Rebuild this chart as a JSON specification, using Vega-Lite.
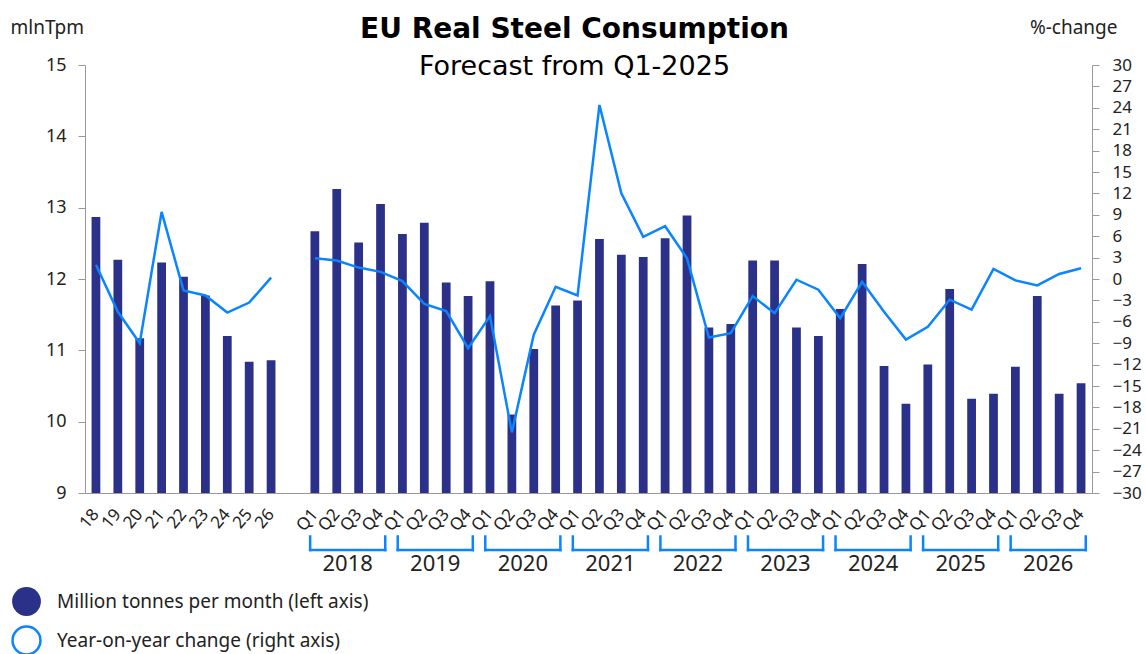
{
  "$schema": "https://vega.github.io/schema/vega-lite/v6.json",
  "width": 1007,
  "height": 428,
  "autosize": {"type": "none"},
  "padding": {"left": 85, "top": 65, "right": 54, "bottom": 161},
  "background": "white",
  "config": {"view": {"stroke": null}, "font": "Noto Sans"},
  "title": {
    "text": "EU Real Steel Consumption",
    "subtitle": "Forecast from Q1-2025",
    "anchor": "middle",
    "frame": "group",
    "font": "DejaVu Sans",
    "fontSize": 28,
    "fontWeight": "bold",
    "color": "#000000",
    "subtitleFont": "DejaVu Sans",
    "subtitleFontSize": 27,
    "subtitleColor": "#000000",
    "subtitlePadding": 10,
    "offset": -62,
    "dx": -14
  },
  "datasets": {
    "main": [
      {"cat": "18", "grp": "annual", "mt": 12.87, "yoy": 2.0},
      {"cat": "19", "grp": "annual", "mt": 12.27, "yoy": -4.6},
      {"cat": "20", "grp": "annual", "mt": 11.17, "yoy": -9.0},
      {"cat": "21", "grp": "annual", "mt": 12.23, "yoy": 9.4},
      {"cat": "22", "grp": "annual", "mt": 12.03, "yoy": -1.6},
      {"cat": "23", "grp": "annual", "mt": 11.77, "yoy": -2.3},
      {"cat": "24", "grp": "annual", "mt": 11.20, "yoy": -4.7},
      {"cat": "25", "grp": "annual", "mt": 10.84, "yoy": -3.3},
      {"cat": "26", "grp": "annual", "mt": 10.86, "yoy": 0.2},
      {"cat": "2018Q1", "grp": "quarterly", "mt": 12.67, "yoy": 2.9},
      {"cat": "2018Q2", "grp": "quarterly", "mt": 13.26, "yoy": 2.6},
      {"cat": "2018Q3", "grp": "quarterly", "mt": 12.51, "yoy": 1.6},
      {"cat": "2018Q4", "grp": "quarterly", "mt": 13.05, "yoy": 1.0},
      {"cat": "2019Q1", "grp": "quarterly", "mt": 12.63, "yoy": -0.3},
      {"cat": "2019Q2", "grp": "quarterly", "mt": 12.79, "yoy": -3.5},
      {"cat": "2019Q3", "grp": "quarterly", "mt": 11.95, "yoy": -4.5},
      {"cat": "2019Q4", "grp": "quarterly", "mt": 11.76, "yoy": -9.7},
      {"cat": "2020Q1", "grp": "quarterly", "mt": 11.97, "yoy": -5.2},
      {"cat": "2020Q2", "grp": "quarterly", "mt": 10.10, "yoy": -21.5},
      {"cat": "2020Q3", "grp": "quarterly", "mt": 11.02, "yoy": -7.8},
      {"cat": "2020Q4", "grp": "quarterly", "mt": 11.63, "yoy": -1.1},
      {"cat": "2021Q1", "grp": "quarterly", "mt": 11.70, "yoy": -2.3},
      {"cat": "2021Q2", "grp": "quarterly", "mt": 12.56, "yoy": 24.4},
      {"cat": "2021Q3", "grp": "quarterly", "mt": 12.34, "yoy": 12.0},
      {"cat": "2021Q4", "grp": "quarterly", "mt": 12.31, "yoy": 5.9},
      {"cat": "2022Q1", "grp": "quarterly", "mt": 12.57, "yoy": 7.4},
      {"cat": "2022Q2", "grp": "quarterly", "mt": 12.89, "yoy": 2.9},
      {"cat": "2022Q3", "grp": "quarterly", "mt": 11.32, "yoy": -8.2},
      {"cat": "2022Q4", "grp": "quarterly", "mt": 11.37, "yoy": -7.6},
      {"cat": "2023Q1", "grp": "quarterly", "mt": 12.26, "yoy": -2.4},
      {"cat": "2023Q2", "grp": "quarterly", "mt": 12.26, "yoy": -4.8},
      {"cat": "2023Q3", "grp": "quarterly", "mt": 11.32, "yoy": -0.1},
      {"cat": "2023Q4", "grp": "quarterly", "mt": 11.20, "yoy": -1.5},
      {"cat": "2024Q1", "grp": "quarterly", "mt": 11.58, "yoy": -5.5},
      {"cat": "2024Q2", "grp": "quarterly", "mt": 12.21, "yoy": -0.4},
      {"cat": "2024Q3", "grp": "quarterly", "mt": 10.78, "yoy": -4.6},
      {"cat": "2024Q4", "grp": "quarterly", "mt": 10.25, "yoy": -8.5},
      {"cat": "2025Q1", "grp": "quarterly", "mt": 10.80, "yoy": -6.7},
      {"cat": "2025Q2", "grp": "quarterly", "mt": 11.86, "yoy": -2.9},
      {"cat": "2025Q3", "grp": "quarterly", "mt": 10.32, "yoy": -4.3},
      {"cat": "2025Q4", "grp": "quarterly", "mt": 10.39, "yoy": 1.4},
      {"cat": "2026Q1", "grp": "quarterly", "mt": 10.77, "yoy": -0.2},
      {"cat": "2026Q2", "grp": "quarterly", "mt": 11.76, "yoy": -0.9},
      {"cat": "2026Q3", "grp": "quarterly", "mt": 10.39, "yoy": 0.7},
      {"cat": "2026Q4", "grp": "quarterly", "mt": 10.54, "yoy": 1.5}
    ],
    "years": [
      {"year": "2018", "first": "2018Q1", "second": "2018Q2", "last": "2018Q4"},
      {"year": "2019", "first": "2019Q1", "second": "2019Q2", "last": "2019Q4"},
      {"year": "2020", "first": "2020Q1", "second": "2020Q2", "last": "2020Q4"},
      {"year": "2021", "first": "2021Q1", "second": "2021Q2", "last": "2021Q4"},
      {"year": "2022", "first": "2022Q1", "second": "2022Q2", "last": "2022Q4"},
      {"year": "2023", "first": "2023Q1", "second": "2023Q2", "last": "2023Q4"},
      {"year": "2024", "first": "2024Q1", "second": "2024Q2", "last": "2024Q4"},
      {"year": "2025", "first": "2025Q1", "second": "2025Q2", "last": "2025Q4"},
      {"year": "2026", "first": "2026Q1", "second": "2026Q2", "last": "2026Q4"}
    ]
  },
  "layer": [
    {
      "layer": [
        {
          "data": {"name": "main"},
          "mark": {"type": "bar", "width": {"band": 0.4}},
          "encoding": {
            "x": {
              "field": "cat",
              "type": "nominal",
              "sort": null,
              "scale": {
                "domain": ["18", "19", "20", "21", "22", "23", "24", "25", "26", "gap",
                  "2018Q1", "2018Q2", "2018Q3", "2018Q4",
                  "2019Q1", "2019Q2", "2019Q3", "2019Q4",
                  "2020Q1", "2020Q2", "2020Q3", "2020Q4",
                  "2021Q1", "2021Q2", "2021Q3", "2021Q4",
                  "2022Q1", "2022Q2", "2022Q3", "2022Q4",
                  "2023Q1", "2023Q2", "2023Q3", "2023Q4",
                  "2024Q1", "2024Q2", "2024Q3", "2024Q4",
                  "2025Q1", "2025Q2", "2025Q3", "2025Q4",
                  "2026Q1", "2026Q2", "2026Q3", "2026Q4"],
                "paddingInner": 0,
                "paddingOuter": 0
              },
              "axis": {
                "title": null,
                "labelAngle": -50,
                "labelAlign": "right",
                "labelBaseline": "middle",
                "ticks": false,
                "tickSize": 0,
                "labelPadding": 18,
                "labelFontSize": 17,
                "labelColor": "#222222",
                "labelFont": "Noto Sans",
                "domainColor": "#999999",
                "labelOverlap": false,
                "labelExpr": "datum.label == 'gap' ? '' : (length(datum.label) > 2 ? slice(datum.label, 4) : datum.label)"
              }
            },
            "y": {
              "field": "mt",
              "type": "quantitative",
              "scale": {"domain": [9, 15], "zero": false, "nice": false},
              "axis": {
                "title": "mlnTpm",
                "titleAngle": 0,
                "titleX": -75,
                "titleY": -38,
                "titleAlign": "left",
                "titleBaseline": "middle",
                "titleFontSize": 19,
                "titleFontWeight": "normal",
                "titleColor": "#222222",
                "titleFont": "Noto Sans",
                "values": [9, 10, 11, 12, 13, 14, 15],
                "format": "d",
                "grid": false,
                "tickSize": 7,
                "tickColor": "#999999",
                "domainColor": "#999999",
                "labelFontSize": 18,
                "labelPadding": 12,
                "labelColor": "#222222",
                "labelFont": "Noto Sans",
                "labelOverlap": false,
                "labelFlush": false
              }
            },
            "y2": {"datum": 9},
            "fill": {
              "datum": "Million tonnes per month (left axis)",
              "type": "nominal",
              "scale": {"domain": ["Million tonnes per month (left axis)"], "range": ["#2B3088"]},
              "legend": {
                "title": null,
                "orient": "none",
                "legendX": -74,
                "legendY": 521,
                "symbolType": "circle",
                "symbolSize": 830,
                "labelFontSize": 19,
                "labelFont": "Noto Sans",
                "labelColor": "#222222",
                "labelLimit": 0,
                "labelOffset": 15,
                "padding": 0
              }
            }
          }
        },
        {
          "data": {"name": "years"},
          "mark": {"type": "rule", "color": "#0A84FF", "strokeWidth": 2.5, "strokeCap": "square"},
          "encoding": {
            "x": {"field": "first", "type": "nominal", "bandPosition": 0.285},
            "x2": {"field": "last", "bandPosition": 0.715},
            "y": {"datum": 8.2, "type": "quantitative"}
          }
        },
        {
          "data": {"name": "years"},
          "mark": {"type": "rule", "color": "#0A84FF", "strokeWidth": 2.5, "strokeCap": "square"},
          "encoding": {
            "x": {"field": "first", "type": "nominal", "bandPosition": 0.285},
            "y": {"datum": 8.39, "type": "quantitative"},
            "y2": {"datum": 8.2}
          }
        },
        {
          "data": {"name": "years"},
          "mark": {"type": "rule", "color": "#0A84FF", "strokeWidth": 2.5, "strokeCap": "square"},
          "encoding": {
            "x": {"field": "last", "type": "nominal", "bandPosition": 0.715},
            "y": {"datum": 8.39, "type": "quantitative"},
            "y2": {"datum": 8.2}
          }
        },
        {
          "data": {"name": "years"},
          "mark": {"type": "text", "fontSize": 22, "font": "Noto Sans", "color": "#222222", "baseline": "middle", "align": "center"},
          "encoding": {
            "x": {"field": "second", "type": "nominal", "bandPosition": 1},
            "y": {"datum": 8.0, "type": "quantitative"},
            "text": {"field": "year"}
          }
        }
      ]
    },
    {
      "data": {"name": "main"},
      "mark": {"type": "line", "strokeWidth": 2.5, "strokeJoin": "miter"},
      "encoding": {
        "x": {"field": "cat", "type": "nominal"},
        "y": {
          "field": "yoy",
          "type": "quantitative",
          "scale": {"domain": [-30, 30], "zero": false, "nice": false},
          "axis": {
            "orient": "right",
            "title": "%-change",
            "titleAngle": 0,
            "titleX": 25,
            "titleY": -38,
            "titleAlign": "right",
            "titleBaseline": "middle",
            "titleFontSize": 19,
            "titleFontWeight": "normal",
            "titleColor": "#222222",
            "titleFont": "Noto Sans",
            "values": [-30, -27, -24, -21, -18, -15, -12, -9, -6, -3, 0, 3, 6, 9, 12, 15, 18, 21, 24, 27, 30],
            "grid": false,
            "tickSize": 7,
            "tickColor": "#999999",
            "domainColor": "#999999",
            "labelFontSize": 17,
            "labelPadding": 13,
            "labelColor": "#222222",
            "labelFont": "Noto Sans",
            "labelOverlap": false,
            "labelFlush": false
          }
        },
        "stroke": {
          "datum": "Year-on-year change (right axis)",
          "type": "nominal",
          "scale": {"domain": ["Year-on-year change (right axis)"], "range": ["#0A84FF"]},
          "legend": {
            "title": null,
            "orient": "none",
            "legendX": -74,
            "legendY": 560,
            "symbolType": "circle",
            "symbolSize": 780,
            "symbolStrokeWidth": 2.5,
            "symbolFillColor": "#ffffff",
            "labelFontSize": 19,
            "labelFont": "Noto Sans",
            "labelColor": "#222222",
            "labelLimit": 0,
            "labelOffset": 15,
            "padding": 0
          }
        },
        "detail": {"field": "grp"}
      }
    }
  ],
  "resolve": {"scale": {"y": "independent"}}
}
